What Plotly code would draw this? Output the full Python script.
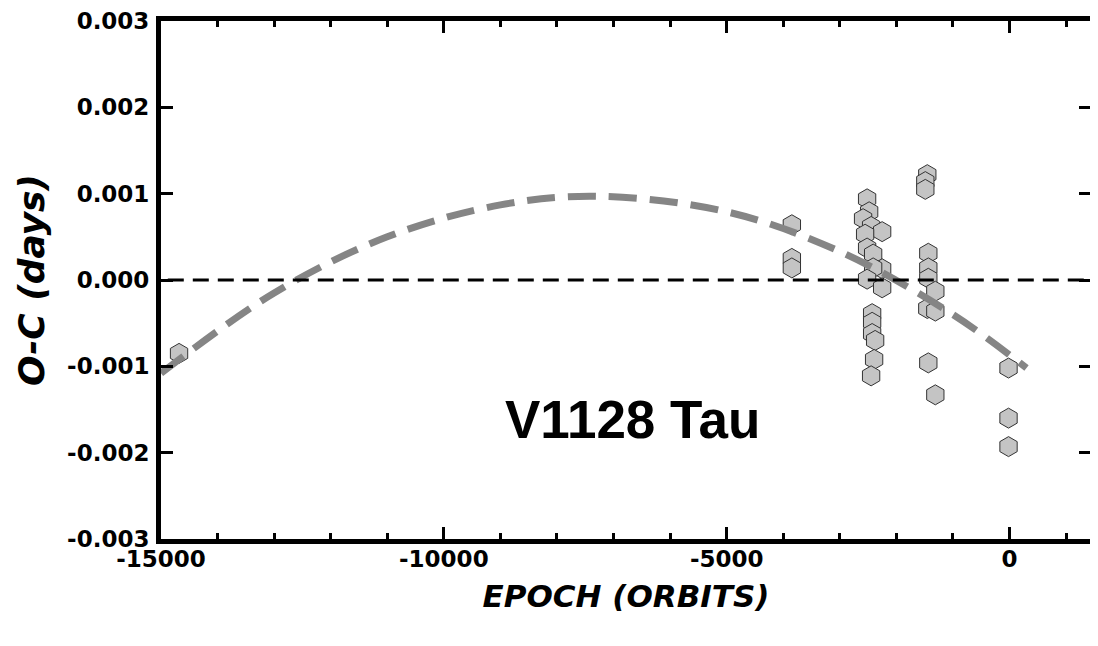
import plotly.graph_objects as go

# Observed O-C timings
epoch = [-14681, -3848, -3848, -3848,
         -2518, -2482, -2589, -2447, -2252, -2553, -2518, -2411, -2252, -2411, -2518, -2252,
         -2429, -2429, -2429, -2376, -2394, -2447,
         -1454, -1489, -1489, -1436, -1436, -1436, -1312, -1454, -1312, -1436, -1312,
         -18, -18, -18]
oc = [-0.00085, 0.00064, 0.00025, 0.00014,
      0.00094, 0.00079, 0.00071, 0.00062, 0.00056, 0.00053, 0.00037, 0.00030, 0.00013, 0.00014, 0.00001, -0.00009,
      -0.00039, -0.00049, -0.00062, -0.00070, -0.00092, -0.00111,
      0.00122, 0.00114, 0.00105, 0.00031, 0.00014, 0.00002, -0.00013, -0.00033, -0.00036, -0.00096, -0.00133,
      -0.00102, -0.00160, -0.00193]

# Fitted curve
fit_epoch = [-15000, -13000, -11000, -9000, -7300, -5000, -3000, -1000, 300]
fit_oc = [-0.00108, -0.00015, 0.00050, 0.00087, 0.00097, 0.00079, 0.00033, -0.00040, -0.00102]

zero_epoch = [-14880, 1560]
zero_oc = [0, 0]

x_ticks = [-15000, -10000, -5000, 0]
x_labels = ["-15000", "-10000", "-5000", "0"]
y_ticks = [-0.003, -0.002, -0.001, 0.0, 0.001, 0.002, 0.003]
y_labels = ["-0.003", "-0.002", "-0.001", "0.000", "0.001", "0.002", "0.003"]

ARIAL = "Liberation Sans, Arial, Helvetica, sans-serif"
DEJAVU = "DejaVu Sans, sans-serif"
X_RANGE = [-15000, 1440]

fig = go.Figure()
fig.add_trace(go.Scatter(
    x=epoch, y=oc, mode="markers",
    marker=dict(symbol="hexagon", size=20, color="#c4c4c4",
                line=dict(color="#333333", width=1)),
    hoverinfo="skip", showlegend=False))
fig.add_trace(go.Scatter(
    x=fit_epoch, y=fit_oc, mode="lines", line_shape="spline",
    line=dict(color="#858585", width=7, dash="28px,13px"),
    showlegend=False))
fig.add_trace(go.Scatter(
    x=zero_epoch, y=zero_oc, mode="lines",
    line=dict(color="black", width=3, dash="16px,9px"),
    showlegend=False, cliponaxis=False))
# empty trace so the top axis (carrying mirrored minor ticks) is drawn
fig.add_trace(go.Scatter(x=[None], y=[None], xaxis="x2", mode="markers",
                         showlegend=False, hoverinfo="skip"))

fig.add_annotation(x=-6667, y=-0.00162, text="<b>V1128 Tau</b>", showarrow=False,
                   font=dict(family=ARIAL, size=53, color="black"))

minor_ticks = dict(tickmode="linear", tick0=0, dtick=1000, ticks="inside",
                   ticklen=6, tickwidth=2.5, tickcolor="black")

fig.update_layout(
    width=1098, height=646,
    margin=dict(l=153, r=15, t=13, b=115),
    paper_bgcolor="white", plot_bgcolor="white",
    font=dict(family=ARIAL, color="black"),
    xaxis=dict(
        range=X_RANGE, showgrid=False, zeroline=False, automargin=False,
        tickmode="array", tickvals=x_ticks, ticktext=["<b>%s</b>" % t for t in x_labels],
        ticks="inside", ticklen=12, tickwidth=2.5, tickcolor="black",
        tickfont=dict(family=DEJAVU, size=23), ticklabelstandoff=-5,
        minor=minor_ticks,
        showline=True, linecolor="black", linewidth=5, mirror=True,
        title=dict(text="<b><i>EPOCH (ORBITS)</i></b>", font=dict(family=DEJAVU, size=31), standoff=16),
    ),
    xaxis2=dict(overlaying="x", side="top", range=X_RANGE, showgrid=False, zeroline=False,
                showticklabels=False, showline=False, automargin=False,
                tickmode="array", tickvals=x_ticks,
                ticks="inside", ticklen=12, tickwidth=2.5, tickcolor="black",
                minor=minor_ticks),
    yaxis=dict(
        range=[-0.003, 0.003], showgrid=False, zeroline=False, automargin=False,
        tickmode="array", tickvals=y_ticks, ticktext=["<b>%s</b>" % t for t in y_labels],
        ticks="inside", ticklen=12, tickwidth=2.5, tickcolor="black",
        tickfont=dict(family=DEJAVU, size=23), ticklabelstandoff=2,
        showline=True, linecolor="black", linewidth=5, mirror="ticks",
        title=dict(text="<b><i>O-C (days)</i></b>", font=dict(family=DEJAVU, size=36), standoff=13),
    ),
)

fig.write_html("out.html")
